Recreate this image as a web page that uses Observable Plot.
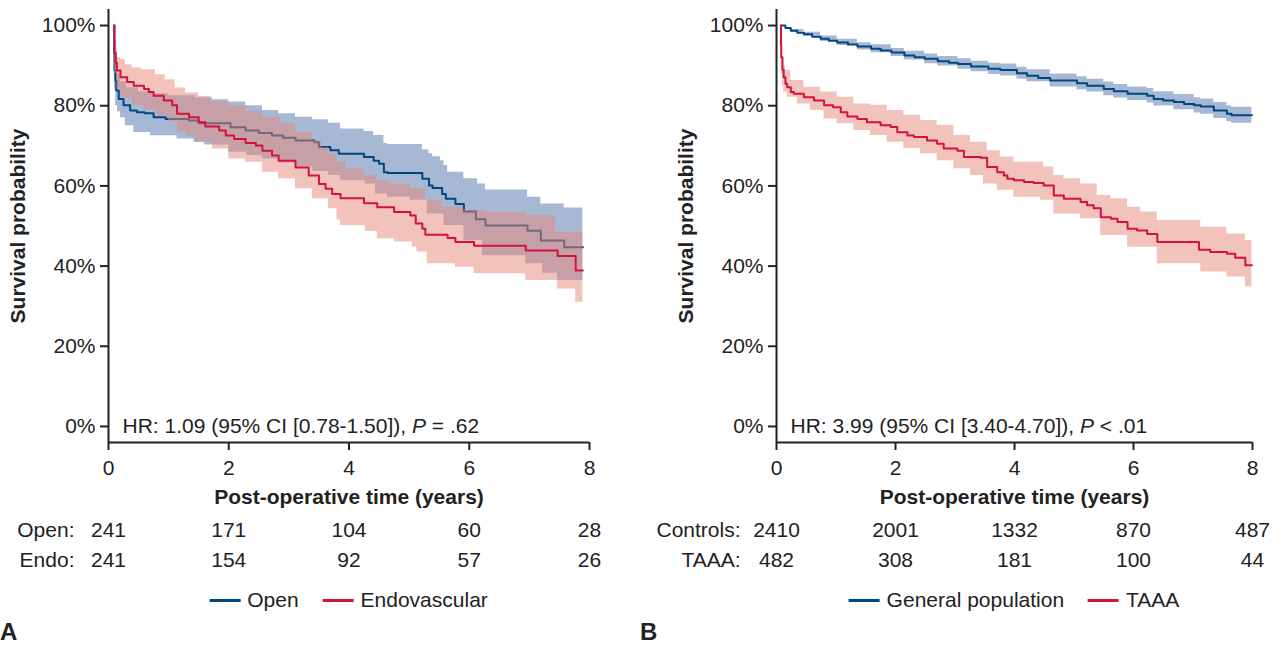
<!DOCTYPE html>
<html><head><meta charset="utf-8">
<script src="https://cdn.jsdelivr.net/npm/d3@7"></script>
<script src="https://cdn.jsdelivr.net/npm/@observablehq/plot@0.6"></script>
<style>
body{margin:0;background:#fff;font-family:"Liberation Sans",Arial,sans-serif;color:#222}
#wrap{position:relative;width:1285px;height:645px;overflow:hidden;background:#fff}
.panel{position:absolute;top:0;height:645px}
.panel svg{position:absolute;left:0}
.legend{position:absolute;top:588px;display:flex;gap:24px;font-size:21px;line-height:24px;align-items:center;white-space:nowrap;transform:translateX(-50%)}
.legend .sw{display:inline-block;width:31px;height:3px;margin-right:7px;vertical-align:middle;position:relative;top:-1px}
.lab{position:absolute;top:619px;font-weight:bold;font-size:24px;line-height:26px}
</style></head><body><div id="wrap"></div>
<script>
// ---------- Panel A data (time in years, survival in %) ----------
const openSurv = [[0.09,100],[0.095,92.9],[0.10,88.8],[0.115,86.3],[0.13,83.8],[0.17,81.7],[0.25,80.1],[0.36,78.8],[0.47,78.4],[0.6,78.1],[0.75,77.1],[0.95,76.7],[1.34,76.3],[1.5,75.6],[2.03,74.6],[2.28,73.8],[2.5,73.2],[2.72,72.6],[2.9,72.0],[3.11,71.3],[3.42,70.9],[3.5,69.7],[3.69,68.9],[3.83,68.0],[4.25,67.2],[4.41,66.3],[4.5,65.5],[4.58,63.4],[4.64,63.2],[5.22,61.8],[5.33,60.1],[5.39,59.5],[5.55,58],[5.61,56.8],[5.77,55.5],[5.91,53.6],[6.11,51.7],[6.27,50.1],[6.97,48.8],[7.19,46.4],[7.58,44.7],[7.89,44.7]];
const openUpper = [[0.09,100],[0.1,97],[0.12,92],[0.15,88],[0.2,86],[0.3,84.5],[0.5,83.5],[0.75,83],[1.0,82.5],[1.45,82],[1.73,81.5],[2.0,80.9],[2.28,80],[2.56,78.8],[2.83,78],[3.11,77.1],[3.39,76.5],[3.66,75.6],[3.86,74.2],[4.25,73.6],[4.41,72.6],[4.58,70.6],[4.64,70.3],[5.22,69],[5.33,68],[5.39,67.3],[5.52,66.3],[5.58,65.1],[5.64,63.4],[5.91,61.8],[6.14,60.5],[6.27,59],[6.97,57.2],[7.19,55.5],[7.58,54.5],[7.89,54.5]];
const openLower = [[0.09,100],[0.095,88],[0.1,84],[0.12,80],[0.15,78.5],[0.2,77],[0.28,75],[0.42,73.3],[0.7,72.5],[1.14,71.7],[1.42,70.9],[1.6,70.2],[2.0,68.4],[2.3,67.6],[2.56,66.7],[2.85,65.7],[3.11,64.7],[3.4,63.6],[3.66,62.6],[3.86,61.3],[4.27,60.5],[4.44,58],[4.64,57.2],[5.02,56.4],[5.3,53],[5.58,50.1],[5.91,46.4],[6.22,42.6],[6.94,40.6],[7.22,38.2],[7.47,36.4],[7.89,36.4]];
const endoSurv = [[0.09,100],[0.1,93.3],[0.12,90.8],[0.14,88.8],[0.2,87.1],[0.31,85.9],[0.42,85],[0.59,84.2],[0.67,83.4],[0.75,82.5],[0.92,81.3],[1.06,80.1],[1.14,78],[1.34,77.1],[1.5,75.9],[1.61,74.8],[1.84,73.8],[1.95,72.6],[2.09,71.7],[2.28,70.7],[2.45,70.1],[2.56,68.8],[2.72,67.6],[2.83,66.3],[3.11,64.6],[3.33,62.6],[3.5,60.5],[3.61,59.3],[3.72,58],[3.86,56.9],[4.25,55.7],[4.47,54.7],[4.75,53.5],[5.02,52.6],[5.11,50.6],[5.22,49.3],[5.27,47.8],[5.64,47],[5.77,46],[6.08,45.1],[6.94,43.9],[7.47,42.5],[7.77,38.9],[7.89,38.9]];
const endoUpper = [[0.09,100],[0.1,96],[0.14,92],[0.2,91.5],[0.28,90.2],[0.39,89.4],[0.55,89],[0.78,87.7],[0.94,86.5],[1.11,84.4],[1.28,83.2],[1.5,82.3],[1.7,81],[2.0,80],[2.3,78.5],[2.56,77.1],[2.85,75.5],[3.11,73.4],[3.39,71.3],[3.55,69.5],[3.66,68],[3.8,66],[3.94,64.3],[4.25,62.6],[4.47,61.3],[4.66,60.5],[5.02,59.3],[5.27,56.4],[5.55,54.7],[5.91,53.9],[6.27,53.4],[6.94,52.6],[7.44,48.5],[7.89,48.5]];
const endoLower = [[0.09,100],[0.1,88],[0.14,84],[0.2,82],[0.4,80],[0.6,79],[0.8,77.5],[1.0,76],[1.15,73.5],[1.3,72.5],[1.45,70.9],[1.73,69.2],[2.0,66.7],[2.28,65.9],[2.56,63.4],[2.83,61.8],[3.11,59.3],[3.39,56.8],[3.66,54.3],[3.8,51.5],[3.86,50.1],[4.27,48.6],[4.47,46.8],[4.75,46],[5.05,44.7],[5.13,43.5],[5.3,40.6],[5.77,39.7],[6.08,38.1],[6.94,36.4],[7.47,34.3],[7.77,31],[7.89,31]];

// ---------- Panel B data ----------
const genSurv = [[0.08,100],[0.15,99.4],[0.24,98.7],[0.35,98.2],[0.46,97.8],[0.6,97.2],[0.74,96.7],[0.88,96.2],[1.02,95.8],[1.2,95.3],[1.36,94.8],[1.59,94.2],[1.75,93.8],[1.93,93.3],[2.15,92.5],[2.32,92.1],[2.49,91.7],[2.71,91.1],[2.9,90.7],[3.05,90.4],[3.27,89.8],[3.56,89.2],[3.76,88.9],[4.04,88.1],[4.21,87.5],[4.4,86.9],[4.6,86.3],[5.05,85.6],[5.22,85.0],[5.5,84.2],[5.67,83.6],[5.9,83],[6.23,82.5],[6.34,81.7],[6.5,81.3],[6.68,80.9],[6.85,80.4],[7.02,80.1],[7.13,79.8],[7.35,78.8],[7.57,78],[7.65,77.6],[7.99,77.6]];
const genUpper = [[0.08,100],[0.24,99.0],[0.46,98.3],[0.74,97.4],[1.02,96.6],[1.36,95.7],[1.59,95.2],[1.93,94.3],[2.15,93.6],[2.49,92.9],[2.71,92.3],[3.05,91.7],[3.27,91.1],[3.56,90.6],[3.76,90.4],[4.04,89.6],[4.21,89.0],[4.6,87.9],[5.05,87.2],[5.22,86.6],[5.5,85.9],[5.67,85.3],[5.9,84.7],[6.23,84.3],[6.34,83.5],[6.68,82.8],[7.02,82.0],[7.13,81.7],[7.35,80.8],[7.57,80.0],[7.65,79.6],[7.99,79.6]];
const genLower = [[0.08,100],[0.24,98.4],[0.46,97.3],[0.74,96.0],[1.02,95.0],[1.36,93.9],[1.59,93.2],[1.93,92.3],[2.15,91.4],[2.49,90.5],[2.71,89.9],[3.05,89.1],[3.27,88.5],[3.56,87.8],[3.76,87.4],[4.04,86.6],[4.21,86.0],[4.6,84.7],[5.05,84.0],[5.22,83.4],[5.5,82.5],[5.67,81.9],[5.9,81.3],[6.23,80.7],[6.34,79.9],[6.68,79.0],[7.02,78.2],[7.13,77.9],[7.35,76.8],[7.57,76.0],[7.65,75.6],[7.99,75.6]];
const taaaSurv = [[0.07,100],[0.075,95],[0.08,92.1],[0.1,89],[0.12,87.1],[0.15,85.5],[0.18,84.6],[0.24,83.4],[0.29,83],[0.46,82.1],[0.63,81.3],[0.8,80.1],[0.95,79.6],[1.08,78.4],[1.19,77.3],[1.36,76.7],[1.52,75.9],[1.75,75.1],[1.92,74.7],[2.03,73.4],[2.2,72.6],[2.31,72.2],[2.53,71.3],[2.7,70.5],[2.81,69.3],[3.04,68.8],[3.15,67.2],[3.43,67],[3.54,64.7],[3.71,63.4],[3.82,62.6],[3.88,61.8],[3.99,61.4],[4.16,61],[4.32,60.7],[4.49,60.1],[4.66,57.6],[4.83,56.8],[5.11,56],[5.22,55.2],[5.33,54.4],[5.45,52.2],[5.62,51.8],[5.73,51],[5.9,49.3],[6.06,48.9],[6.23,48],[6.4,46],[7.1,44.1],[7.29,43.5],[7.57,43.1],[7.71,42.1],[7.88,40.2],[7.99,40.2]];
const taaaUpper = [[0.07,100],[0.08,97],[0.1,92],[0.12,90],[0.15,88.8],[0.24,86.3],[0.46,84.6],[0.74,83.4],[1.02,82.1],[1.3,80.4],[1.58,80.1],[1.86,78.8],[2.14,77.6],[2.42,76.3],[2.7,75.1],[2.98,72.6],[3.26,70.9],[3.54,68.8],[3.76,67.2],[3.99,65.9],[4.49,64.7],[4.66,62.6],[4.83,61.8],[5.11,60.5],[5.39,57.6],[5.62,56.8],[5.9,54.7],[6.12,53.5],[6.4,51.4],[7.13,49.7],[7.57,48],[7.88,46.4],[7.99,46.4]];
const taaaLower = [[0.07,100],[0.08,88],[0.1,85],[0.12,83.5],[0.18,82.1],[0.35,80.4],[0.57,78.8],[0.8,76.7],[1.02,75.5],[1.3,73.8],[1.58,72.6],[1.86,70.9],[2.14,69.3],[2.42,68],[2.7,66.3],[2.98,64.3],[3.26,62.6],[3.48,60.5],[3.71,58.9],[3.99,57.2],[4.44,56.4],[4.66,53],[5.11,51.8],[5.45,47.6],[5.9,44.7],[6.4,40.6],[7.13,38.5],[7.57,37.3],[7.88,34.8],[7.99,34.8]];

// ---------- axes / tables / labels ----------
const xTicks = [0, 2, 4, 6, 8];
const yTicks = [0, 20, 40, 60, 80, 100];
const riskTimes = [0, 2, 4, 6, 8];
const riskOpen = [241, 171, 104, 60, 28];
const riskEndo = [241, 154, 92, 57, 26];
const riskControls = [2410, 2001, 1332, 870, 487];
const riskTAAA = [482, 308, 181, 100, 44];
const xTitle = "Post-operative time (years)";
const yTitle = "Survival probability";
const hrA = ["HR: 1.09 (95% CI [0.78-1.50]), ", "P", " = .62"];
const hrB = ["HR: 3.99 (95% CI [3.40-4.70]), ", "P", " < .01"];

const BLUE = "#00467f", RED = "#d3123e", BLUE_BAND = "#4d71a9", RED_BAND = "#e58777";
const FONT = "'Liberation Sans', Arial, sans-serif";
const INK = "#222";
const FS = 21;

function band(lo, hi) {
  const ts = Array.from(new Set([...lo.map(d => d[0]), ...hi.map(d => d[0])])).sort((a, b) => a - b);
  const at = (arr, t) => { let v = arr[0][1]; for (const d of arr) if (d[0] <= t) v = d[1]; return v; };
  return ts.map(t => ({t, lo: at(lo, t), hi: at(hi, t)}));
}

function makePanel(cfg) {
  const panel = document.createElement("div");
  panel.className = "panel";
  panel.style.left = cfg.left + "px";
  panel.style.width = cfg.width + "px";
  document.getElementById("wrap").appendChild(panel);

  const yDom = [-4, 104];
  const xDom = [0, 8];
  const marks = [];
  for (const s of cfg.series) {
    marks.push(Plot.areaY(band(s.lower, s.upper), {x: "t", y1: "lo", y2: "hi", curve: "step-after", fill: s.bandColor, fillOpacity: 0.5}));
    marks.push(Plot.line(s.surv, {x: d => d[0], y: d => d[1], curve: "step-after", stroke: s.color, strokeWidth: 2}));
  }
  marks.push(
    Plot.ruleX([xDom[0]], {stroke: INK, strokeWidth: 2}),
    Plot.ruleY([yDom[0]], {stroke: INK, strokeWidth: 2}),
    Plot.axisY({ticks: yTicks, tickSize: 8, tickPadding: 5, tickFormat: d => d + "%", label: null, fontSize: FS, strokeWidth: 2}),
    Plot.axisX({ticks: xTicks, tickSize: 8, tickPadding: 10, label: null, fontSize: FS, strokeWidth: 2}),
    Plot.text([xTitle], {frameAnchor: "bottom", dy: 55, lineAnchor: "middle", fontWeight: "bold", fontSize: FS}),
    Plot.text([yTitle], {frameAnchor: "left", dx: -90, rotate: -90, textAnchor: "middle", lineAnchor: "middle", fontWeight: "bold", fontSize: FS}),
    Plot.text([cfg.hr.join("")], {x: xDom[0], y: 0, dx: 14, textAnchor: "start", lineAnchor: "middle", fontSize: FS, ariaLabel: "hr-note"})
  );
  const main = Plot.plot({
    width: cfg.width, height: 510,
    marginLeft: cfg.ml, marginRight: cfg.mr, marginTop: 9, marginBottom: 68,
    style: {fontFamily: FONT, fontSize: FS + "px", color: INK, background: "transparent", overflow: "visible"},
    x: {domain: xDom},
    y: {domain: yDom},
    marks
  });
  main.style.top = "0px";
  panel.appendChild(main);
  // italic P in HR note
  let t = main.querySelector('[aria-label="hr-note"]');
  if (t && t.tagName.toLowerCase() !== "text") t = t.querySelector("text");
  if (!t) t = Array.from(main.querySelectorAll("text")).find(e => e.textContent === cfg.hr.join(""));
  if (t) {
    t.textContent = "";
    cfg.hr.forEach((part, i) => {
      const ts = document.createElementNS("http://www.w3.org/2000/svg", "tspan");
      ts.textContent = part;
      if (i === 1) { ts.setAttribute("font-style", "italic"); ts.style.fontStyle = "italic"; }
      t.appendChild(ts);
    });
  }

  // risk table
  const rows = [];
  cfg.risk.forEach(r => r.values.forEach((n, i) => rows.push({t: riskTimes[i], g: r.name, n})));
  const risk = Plot.plot({
    width: cfg.width, height: 70,
    marginLeft: cfg.ml, marginRight: cfg.mr, marginTop: 0, marginBottom: 0,
    style: {fontFamily: FONT, fontSize: FS + "px", color: INK, background: "transparent", overflow: "visible"},
    x: {domain: xDom, axis: null},
    y: {domain: cfg.risk.map(r => r.name), range: [21, 51], type: "point", padding: 0},
    marks: [
      Plot.axisY({tickSize: 0, tickPadding: cfg.rowPad, tickFormat: d => d + ":", label: null, fontSize: FS}),
      Plot.text(rows, {x: "t", y: "g", text: d => String(d.n), fontSize: FS})
    ]
  });
  risk.style.top = "509px";
  panel.appendChild(risk);

  // legend
  const lg = document.createElement("div");
  lg.className = "legend";
  lg.style.left = (cfg.ml + (cfg.width - cfg.ml - cfg.mr) / 2) + "px";
  cfg.series.forEach(s => {
    const it = document.createElement("span");
    it.innerHTML = `<span class="sw" style="background:${s.color}"></span>${s.name}`;
    lg.appendChild(it);
  });
  panel.appendChild(lg);

  const lab = document.createElement("div");
  lab.className = "lab";
  lab.style.left = cfg.labLeft + "px";
  lab.textContent = cfg.letter;
  panel.appendChild(lab);
}

makePanel({
  left: 0, width: 640, ml: 108, mr: 51, letter: "A", labLeft: 0, rowPad: 34, hr: hrA,
  series: [
    {name: "Open", surv: openSurv, lower: openLower, upper: openUpper, color: BLUE, bandColor: BLUE_BAND},
    {name: "Endovascular", surv: endoSurv, lower: endoLower, upper: endoUpper, color: RED, bandColor: RED_BAND}
  ],
  risk: [{name: "Open", values: riskOpen}, {name: "Endo", values: riskEndo}]
});
makePanel({
  left: 640, width: 645, ml: 136, mr: 33, letter: "B", labLeft: 0, rowPad: 36, hr: hrB,
  series: [
    {name: "General population", surv: genSurv, lower: genLower, upper: genUpper, color: BLUE, bandColor: BLUE_BAND},
    {name: "TAAA", surv: taaaSurv, lower: taaaLower, upper: taaaUpper, color: RED, bandColor: RED_BAND}
  ],
  risk: [{name: "Controls", values: riskControls}, {name: "TAAA", values: riskTAAA}]
});
</script></body></html>
